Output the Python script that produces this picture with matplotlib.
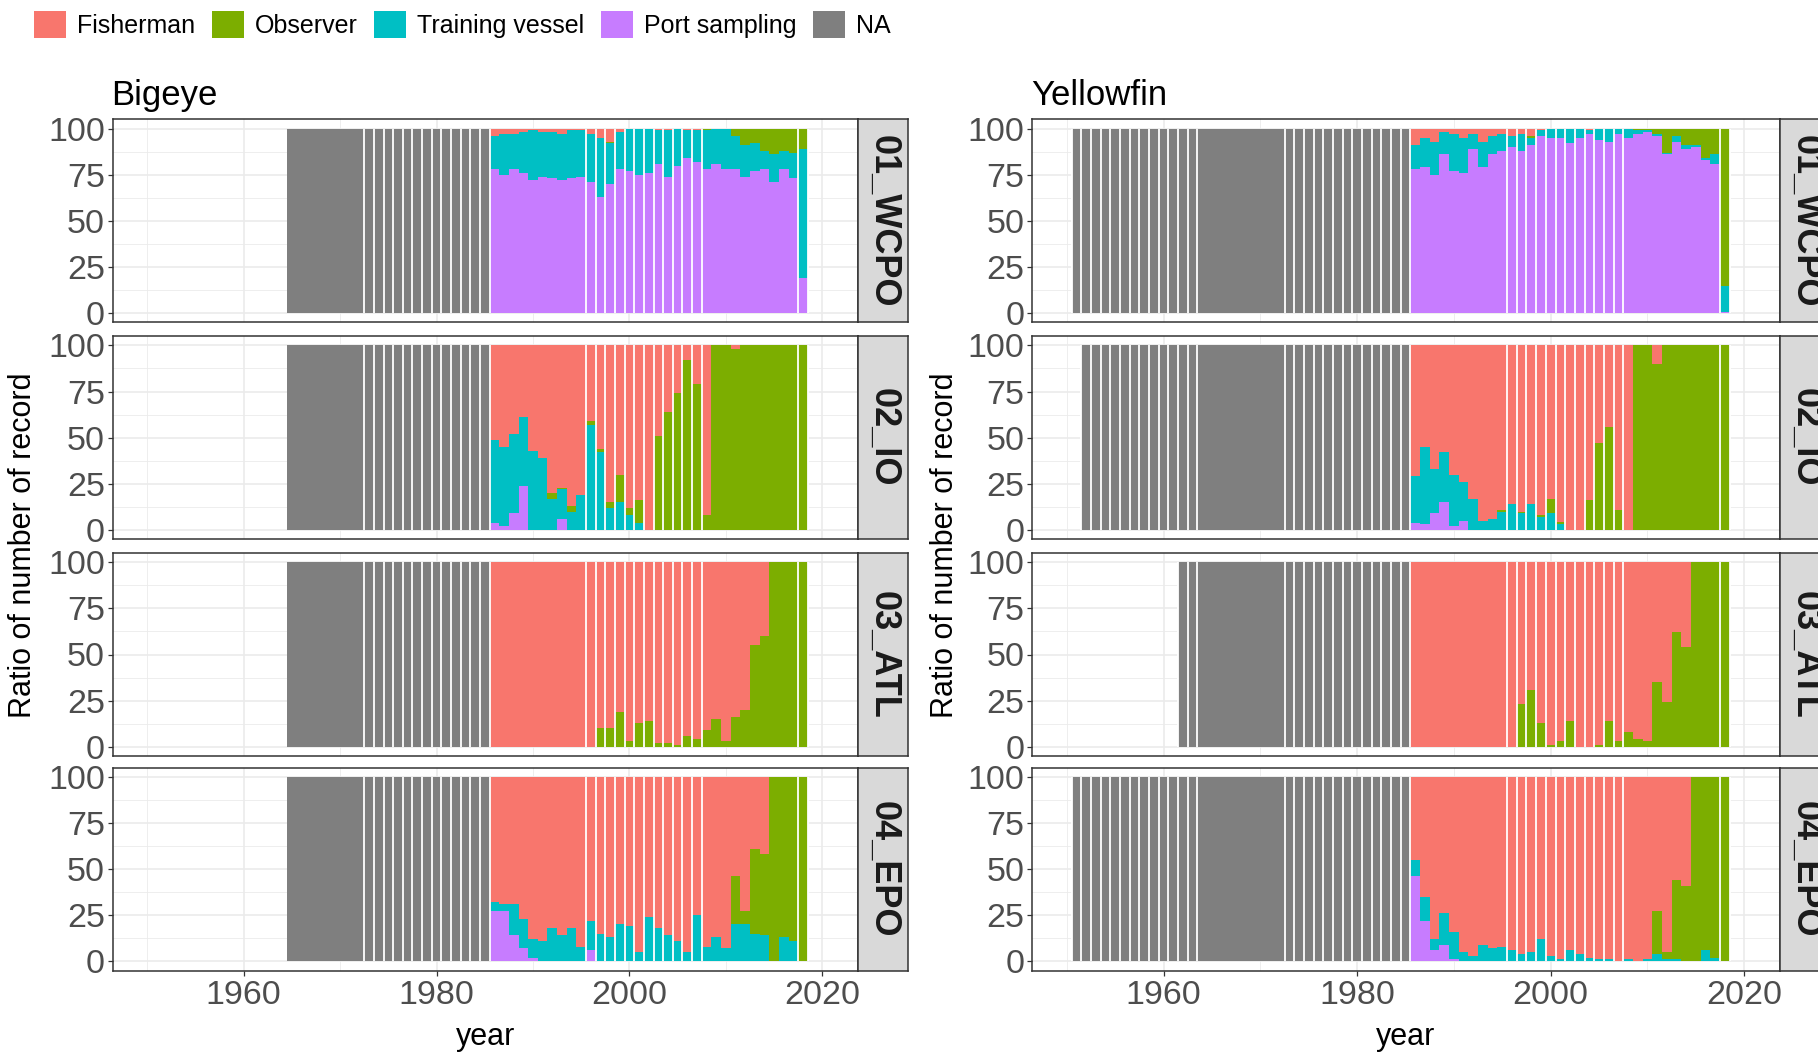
import matplotlib
matplotlib.use('Agg')
import matplotlib.pyplot as plt
from matplotlib.patches import Patch

plt.rcParams['font.family'] = ['Liberation Sans', 'DejaVu Sans']

# ---- data (percent of records per year) ----
categories = ['Fisherman', 'Observer', 'Training vessel', 'Port sampling', 'NA']
cat_colors = ['#F8766D', '#7CAE00', '#00BFC4', '#C77CFF', '#7F7F7F']
species = ['Bigeye', 'Yellowfin']
regions = ['01_WCPO', '02_IO', '03_ATL', '04_EPO']

# years before 1986 are all NA; from 1986 to 2018 the sources are known
years_known = list(range(1986, 2019))

bet_start = [1965, 1965, 1965, 1965]
yft_start = [1951, 1952, 1962, 1951]

# Bigeye
bet_wcpo_port = [78, 75, 78, 76, 72, 74, 73, 72, 73, 74, 71, 63, 70, 78, 77, 75, 76,
                 81, 74, 80, 84, 82, 78, 81, 78, 78, 74, 77, 78, 71, 78, 73, 19]
bet_wcpo_train = [18, 22, 19, 22, 27, 24, 25, 25, 26, 25, 26, 32, 22, 20, 23, 25, 24,
                  18, 25, 20, 15, 17, 21, 19, 22, 18, 17, 15, 10, 15, 10, 14, 70]
bet_wcpo_obs = [0, 0, 0, 0, 0, 0, 0, 0, 0, 0, 0, 0, 1, 0, 0, 0, 0,
                0, 0, 0, 0, 0, 1, 0, 0, 4, 9, 8, 12, 14, 12, 13, 11]

bet_io_port = [4, 2, 9, 24, 0, 0, 0, 6, 0, 0, 0, 0, 0, 0, 0, 0, 0,
               0, 0, 0, 0, 0, 0, 0, 0, 0, 0, 0, 0, 0, 0, 0, 0]
bet_io_train = [45, 43, 43, 37, 43, 39, 17, 16, 10, 19, 57, 42, 12, 15, 8, 4, 0,
                0, 0, 0, 0, 0, 0, 0, 0, 0, 0, 0, 0, 0, 0, 0, 0]
bet_io_obs = [0, 0, 0, 0, 0, 0, 3, 1, 3, 0, 2, 2, 3, 15, 4, 12, 0,
              51, 64, 74, 92, 79, 8, 100, 100, 98, 100, 100, 100, 100, 100, 100, 100]

bet_atl_port = [0] * 33
bet_atl_train = [0] * 33
bet_atl_obs = [0, 0, 0, 0, 0, 0, 0, 0, 0, 0, 0, 10, 10, 19, 3, 13, 14,
               2, 2, 1, 6, 4, 9, 15, 3, 16, 20, 55, 60, 100, 100, 100, 100]

bet_epo_port = [27, 27, 14, 7, 2, 0, 0, 0, 0, 0, 6, 0, 0, 0, 0, 0, 0,
                0, 0, 0, 0, 0, 0, 0, 0, 0, 0, 0, 0, 0, 0, 0, 0]
bet_epo_train = [5, 4, 17, 16, 10, 11, 18, 14, 18, 8, 16, 15, 13, 20, 19, 5, 24,
                 18, 14, 11, 5, 25, 8, 13, 7, 20, 20, 15, 14, 0, 13, 11, 0]
bet_epo_obs = [0, 0, 0, 0, 0, 0, 0, 0, 0, 0, 0, 0, 0, 0, 0, 0, 0,
               0, 0, 0, 0, 0, 0, 0, 0, 26, 7, 46, 44, 100, 87, 89, 100]

# Yellowfin
yft_wcpo_port = [78, 79, 75, 86, 77, 76, 89, 79, 86, 88, 90, 88, 91, 96, 95, 95, 92,
                 95, 97, 94, 93, 97, 95, 97, 98, 96, 86, 93, 89, 90, 83, 81, 0.5]
yft_wcpo_train = [13, 16, 18, 12, 20, 19, 8, 14, 10, 9, 6, 9, 4, 3, 5, 5, 8,
                  5, 2, 6, 7, 3, 5, 2, 1, 1, 1, 3, 2, 1, 1, 5, 14]
yft_wcpo_obs = [0, 0, 0, 0, 0, 0, 0, 0, 0, 0, 0, 0, 1, 0, 0, 0, 0,
                0, 0, 0, 0, 0, 0, 1, 1, 3, 13, 4, 9, 9, 16, 14, 85.5]

yft_io_port = [4, 3, 9, 15, 2, 5, 0, 0, 0, 0, 0, 0, 0, 0, 0, 0, 0,
               0, 0, 0, 0, 0, 0, 0, 0, 0, 0, 0, 0, 0, 0, 0, 0]
yft_io_train = [25, 42, 24, 27, 28, 21, 17, 5, 6, 10, 14, 9, 14, 7, 9, 3, 0,
                0, 0, 0, 0, 0, 0, 0, 0, 0, 0, 0, 0, 0, 0, 0, 0]
yft_io_obs = [0, 0, 0, 0, 0, 0, 0, 0, 0, 1, 0, 1, 0, 1, 8, 1.5, 0,
              0, 16.5, 47, 56, 11, 0, 100, 100, 90, 100, 100, 100, 100, 100, 100, 100]

yft_atl_port = [0] * 33
yft_atl_train = [0] * 33
yft_atl_obs = [0, 0, 0, 0, 0, 0, 0, 0, 0, 0, 0, 23, 31, 13, 1, 3, 14,
               0, 0, 1, 14, 3, 8, 4, 3, 35, 24, 62, 54, 100, 100, 100, 100]

yft_epo_port = [46, 22, 6, 9, 1, 0, 0, 0, 0, 0, 0, 0, 0, 0, 0, 0, 0,
                0, 0, 0, 0, 0, 0, 0, 0, 0, 0, 0, 0, 0, 0, 0, 0]
yft_epo_train = [9, 13, 6, 17, 15, 5, 3, 9, 7, 7.5, 6, 4, 5, 12, 3, 1, 6,
                 4, 2, 1, 1, 0, 1, 0, 1, 4, 1, 1, 0, 0, 6, 2, 0]
yft_epo_obs = [0, 0, 0, 0, 0, 0, 0, 0, 0, 0, 0, 0, 0, 0, 0, 0, 0,
               0, 0, 0, 0, 0, 0, 0, 0, 23, 4, 43, 41, 100, 94, 98, 100]

panel_data = {
    'Bigeye': [(bet_start[0], bet_wcpo_port, bet_wcpo_train, bet_wcpo_obs),
               (bet_start[1], bet_io_port, bet_io_train, bet_io_obs),
               (bet_start[2], bet_atl_port, bet_atl_train, bet_atl_obs),
               (bet_start[3], bet_epo_port, bet_epo_train, bet_epo_obs)],
    'Yellowfin': [(yft_start[0], yft_wcpo_port, yft_wcpo_train, yft_wcpo_obs),
                  (yft_start[1], yft_io_port, yft_io_train, yft_io_obs),
                  (yft_start[2], yft_atl_port, yft_atl_train, yft_atl_obs),
                  (yft_start[3], yft_epo_port, yft_epo_train, yft_epo_obs)],
}

# years whose bars show thin white separators in the original rendering
outlined_years = (list(range(1951, 1964)) + list(range(1973, 1986))
                  + list(range(1996, 2008)) + [2018])

# ---- layout (pixels of the 1818x1053 output) ----
W, H = 1818, 1053
fig = plt.figure(figsize=(W / 100, H / 100), dpi=100)

panel_x = {'Bigeye': (112.5, 858), 'Yellowfin': (1032, 1780)}
row_top = [119.4, 336.2, 553, 767.5]
row_h = 203
strip_w = 50

GRID = '#EBEBEB'
DARK = '#333333'
TICKC = '#4D4D4D'


def draw_panel(ax, start, port, train, obs):
    na_years = list(range(start, 1986))
    ax.bar(na_years, [100] * len(na_years), width=1.0, color=cat_colors[4], linewidth=0)
    fisher = [100 - p - t - o for p, t, o in zip(port, train, obs)]
    bottom = [0] * len(years_known)
    for vals, col in zip([port, train, obs, fisher], [cat_colors[3], cat_colors[2], cat_colors[1], cat_colors[0]]):
        ax.bar(years_known, vals, bottom=bottom, width=1.0, color=col, linewidth=0)
        bottom = [b + v for b, v in zip(bottom, vals)]
    edges = sorted({e for y in outlined_years if y >= start for e in (y - 0.5, y + 0.5)})
    ax.vlines(edges, 0, 100, color='white', linewidth=1.3)

    ax.set_xlim(1946.4, 2023.7)
    ax.set_ylim(-5, 105)
    ax.set_xticks([1960, 1980, 2000, 2020])
    ax.set_xticks([1950, 1970, 1990, 2010], minor=True)
    ax.set_yticks([0, 25, 50, 75, 100])
    ax.set_yticks([12.5, 37.5, 62.5, 87.5], minor=True)
    ax.grid(True, which='major', color=GRID, linewidth=1.2)
    ax.grid(True, which='minor', color=GRID, linewidth=0.6)
    ax.set_axisbelow(True)
    for s in ax.spines.values():
        s.set_color(DARK)
        s.set_linewidth(1.1)
    ax.tick_params(which='major', length=3.5, width=0.9, color=DARK,
                   labelsize=24.5, labelcolor=TICKC, pad=2)
    ax.tick_params(which='minor', length=0)


for sp in species:
    x0, x1 = panel_x[sp]
    for i, reg in enumerate(regions):
        top = row_top[i]
        rect = [x0 / W, 1 - (top + row_h) / H, (x1 - x0) / W, row_h / H]
        ax = fig.add_axes(rect)
        start, port, train, obs = panel_data[sp][i]
        draw_panel(ax, start, port, train, obs)
        if i < 3:
            ax.tick_params(axis='x', which='both', bottom=False, labelbottom=False)
        else:
            ax.tick_params(axis='x', pad=3)

        sax = fig.add_axes([x1 / W, 1 - (top + row_h) / H, strip_w / W, row_h / H])
        sax.set_facecolor('#D9D9D9')
        sax.set_xticks([])
        sax.set_yticks([])
        for s in sax.spines.values():
            s.set_color(DARK)
            s.set_linewidth(1.1)
        sax.text(0.5, 0.5, reg, rotation=-90, ha='center', va='center',
                 fontsize=26, fontweight='bold', color='#1A1A1A', transform=sax.transAxes)

    fig.text((x0 - 1) / W, 1 - 95.5 / H, sp, ha='left', va='center', fontsize=25, color='black')
    fig.text((x0 + x1) / 2 / W, 1 - 1037.5 / H, 'year', ha='center', va='center', fontsize=22)

fig.text(23 / W, 1 - 545 / H, 'Ratio of number of record', rotation=90,
         ha='center', va='center', fontsize=22)
fig.text(945 / W, 1 - 545 / H, 'Ratio of number of record', rotation=90,
         ha='center', va='center', fontsize=22)

handles = [Patch(facecolor=c, edgecolor='none', label=l) for c, l in zip(cat_colors, categories)]
fig.legend(handles=handles, loc='upper left', bbox_to_anchor=(34 / W, 1 - 11 / H),
           ncol=5, frameon=False, fontsize=18, handlelength=1.28, handleheight=1.28,
           handletextpad=0.45, columnspacing=0.65, borderpad=0, borderaxespad=0)

fig.savefig('out.png', dpi=100)
